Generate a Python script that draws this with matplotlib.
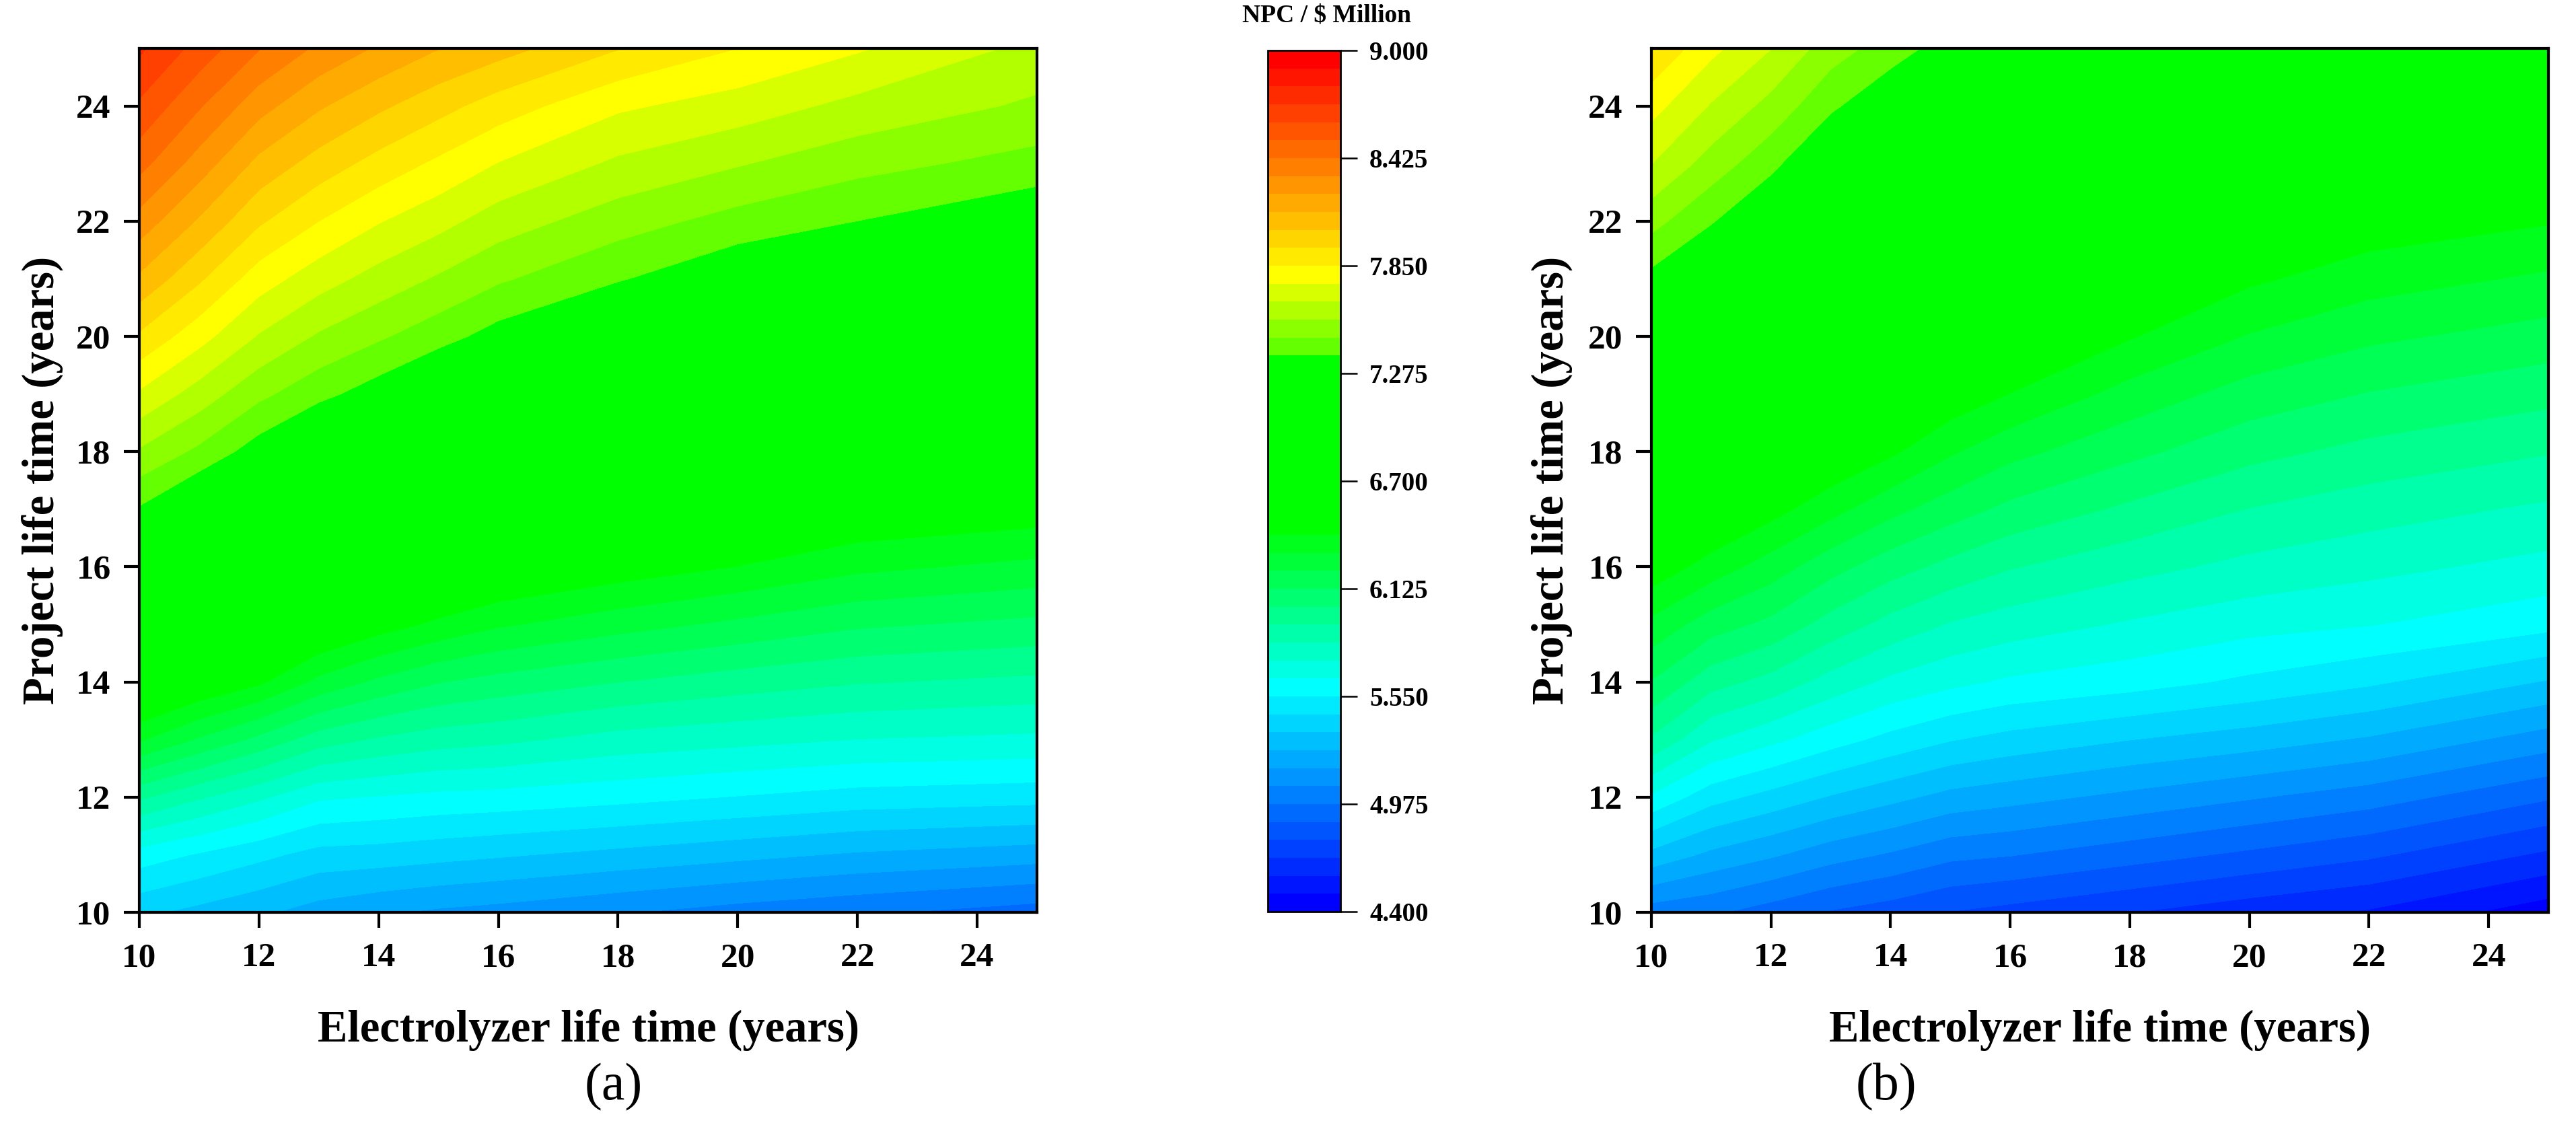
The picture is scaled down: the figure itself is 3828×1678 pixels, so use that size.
import numpy as np
import matplotlib
matplotlib.use("Agg")
import matplotlib.pyplot as plt
from matplotlib.colors import ListedColormap, BoundaryNorm

# -----------------------------
# data
# -----------------------------
electrolyzer_life = [10, 11, 12, 13, 14, 15, 16, 18, 20, 22, 25]
project_life = [10, 11, 12, 13, 14, 15, 16, 17, 18, 19, 20, 21, 22, 23, 24, 25]

# NPC ($ Million), rows = project life, columns = electrolyzer life
npc_a = [
    [5.38, 5.33, 5.28, 5.22, 5.18, 5.15, 5.13, 5.08, 5.03, 4.99, 4.93],
    [5.60, 5.54, 5.48, 5.42, 5.41, 5.39, 5.37, 5.33, 5.29, 5.25, 5.21],
    [5.95, 5.85, 5.76, 5.66, 5.64, 5.62, 5.61, 5.58, 5.545, 5.51, 5.49],
    [6.33, 6.21, 6.10, 5.98, 5.92, 5.88, 5.86, 5.80, 5.77, 5.74, 5.72],
    [6.61, 6.51, 6.43, 6.29, 6.20, 6.13, 6.09, 6.03, 5.98, 5.94, 5.91],
    [6.86, 6.75, 6.65, 6.54, 6.46, 6.39, 6.33, 6.26, 6.20, 6.14, 6.10],
    [7.11, 6.99, 6.88, 6.76, 6.68, 6.60, 6.54, 6.47, 6.41, 6.34, 6.29],
    [7.36, 7.23, 7.10, 6.98, 6.89, 6.81, 6.74, 6.65, 6.58, 6.51, 6.47],
    [7.55, 7.445, 7.32, 7.20, 7.10, 7.02, 6.94, 6.84, 6.76, 6.67, 6.63],
    [7.74, 7.615, 7.49, 7.40, 7.32, 7.22, 7.13, 7.02, 6.93, 6.84, 6.80],
    [7.93, 7.79, 7.65, 7.55, 7.48, 7.41, 7.33, 7.20, 7.10, 7.01, 6.96],
    [8.12, 7.96, 7.80, 7.70, 7.62, 7.55, 7.48, 7.38, 7.28, 7.18, 7.12],
    [8.29, 8.125, 7.96, 7.85, 7.76, 7.69, 7.61, 7.51, 7.43, 7.37, 7.28],
    [8.46, 8.285, 8.11, 8.00, 7.91, 7.83, 7.75, 7.64, 7.57, 7.50, 7.43],
    [8.60, 8.435, 8.27, 8.15, 8.06, 7.98, 7.90, 7.77, 7.71, 7.63, 7.545],
    [8.73, 8.58, 8.43, 8.31, 8.22, 8.14, 8.08, 7.95, 7.85, 7.765, 7.63],
]

npc_b = [
    [5.02, 4.99, 4.93, 4.87, 4.83, 4.78, 4.75, 4.69, 4.63, 4.58, 4.44],
    [5.33, 5.24, 5.18, 5.11, 5.06, 5.00, 4.98, 4.92, 4.86, 4.80, 4.67],
    [5.63, 5.49, 5.42, 5.35, 5.29, 5.23, 5.20, 5.14, 5.08, 5.02, 4.89],
    [5.92, 5.75, 5.67, 5.59, 5.52, 5.46, 5.42, 5.36, 5.31, 5.25, 5.12],
    [6.12, 5.97, 5.90, 5.80, 5.72, 5.67, 5.63, 5.59, 5.53, 5.47, 5.35],
    [6.29, 6.17, 6.10, 5.99, 5.90, 5.83, 5.79, 5.73, 5.68, 5.65, 5.58],
    [6.48, 6.37, 6.27, 6.16, 6.07, 6.00, 5.94, 5.87, 5.81, 5.77, 5.71],
    [6.65, 6.54, 6.45, 6.35, 6.25, 6.17, 6.10, 6.01, 5.93, 5.88, 5.82],
    [6.82, 6.71, 6.61, 6.51, 6.43, 6.33, 6.25, 6.15, 6.06, 6.00, 5.94],
    [6.99, 6.88, 6.77, 6.66, 6.57, 6.48, 6.41, 6.28, 6.18, 6.12, 6.06],
    [7.16, 7.05, 6.93, 6.80, 6.71, 6.62, 6.55, 6.42, 6.31, 6.24, 6.18],
    [7.34, 7.22, 7.09, 6.95, 6.85, 6.76, 6.69, 6.55, 6.43, 6.36, 6.30],
    [7.50, 7.38, 7.25, 7.10, 6.99, 6.90, 6.82, 6.68, 6.56, 6.47, 6.42],
    [7.66, 7.52, 7.40, 7.24, 7.13, 7.04, 6.96, 6.81, 6.68, 6.59, 6.54],
    [7.79, 7.65, 7.53, 7.39, 7.28, 7.18, 7.10, 6.94, 6.81, 6.71, 6.66],
    [7.94, 7.78, 7.66, 7.51, 7.42, 7.32, 7.24, 7.07, 6.93, 6.83, 6.78],
]

npc_min, npc_max, n_bands = 4.4, 9.0, 48
cbar_ticks = [4.400, 4.975, 5.550, 6.125, 6.700, 7.275, 7.850, 8.425, 9.000]

# -----------------------------
# colour bands: blue -> cyan -> green (flat) -> yellow -> red
# -----------------------------
idx = np.arange(n_bands)
anchor = [0, 12, 21, 30, 31, 35, 47]
r = np.interp(idx, anchor, [0, 0, 0, 0, 100, 255, 255])
g = np.interp(idx, anchor, [0, 255, 255, 255, 255, 255, 0])
b = np.interp(idx, anchor, [255, 255, 0, 0, 0, 0, 0])
cmap = ListedColormap(np.column_stack([r, g, b]) / 255.0)
levels = np.linspace(npc_min, npc_max, n_bands + 1)
norm = BoundaryNorm(levels, n_bands)

plt.rcParams['font.family'] = ['Liberation Serif', 'DejaVu Serif']
plt.rcParams['font.weight'] = 'bold'
plt.rcParams['axes.labelweight'] = 'bold'

fig = plt.figure(figsize=(38.28, 16.78), dpi=100)
W, H = 3828.0, 1678.0


def px_axes(left, top, right, bottom):
    return fig.add_axes([left / W, 1 - bottom / H, (right - left) / W, (bottom - top) / H])


ax_a = px_axes(207, 72, 1541, 1356)
ax_b = px_axes(2454, 72, 3787, 1356)
cax = px_axes(1884, 75, 1992, 1355)

for ax, data, ylab_x in ((ax_a, npc_a, -0.108), (ax_b, npc_b, -0.111)):
    cs = ax.contourf(electrolyzer_life, project_life, data,
                     levels=levels, cmap=cmap, norm=norm, antialiased=False)
    ax.set_xlim(10, 25)
    ax.set_ylim(10, 25)
    ax.set_xticks(range(10, 25, 2))
    ax.set_yticks(range(10, 25, 2))
    ax.tick_params(direction='out', length=16.5, width=3, labelsize=37)
    ax.tick_params(axis='x', pad=16)
    ax.tick_params(axis='y', pad=14)
    for s in ax.spines.values():
        s.set_linewidth(3)
    ax.set_xlabel('Electrolyzer life time (years)', fontsize=48)
    ax.xaxis.label.set_verticalalignment('baseline')
    ax.xaxis.set_label_coords(0.5, -0.1495)
    ax.set_ylabel('Project life time (years)', fontsize=48)
    ax.yaxis.label.set_verticalalignment('center')
    ax.yaxis.set_label_coords(ylab_x, 0.5)

cb = fig.colorbar(cs, cax=cax, ticks=cbar_ticks, format='%.3f')
cb.outline.set_linewidth(2)
cax.tick_params(length=18, width=1.8, pad=13, labelsize=28)
cax.minorticks_off()

fig.text(1971 / W, 1 - 23 / H, 'NPC / $ Million', ha='center', va='center',
         fontsize=27, fontweight='bold')
fig.text(912 / W, 1 - 1616 / H, '(a)', ha='center', va='center',
         fontsize=56, fontweight='normal')
fig.text(2803 / W, 1 - 1616 / H, '(b)', ha='center', va='center',
         fontsize=56, fontweight='normal')

fig.savefig('out.png', dpi=100)
